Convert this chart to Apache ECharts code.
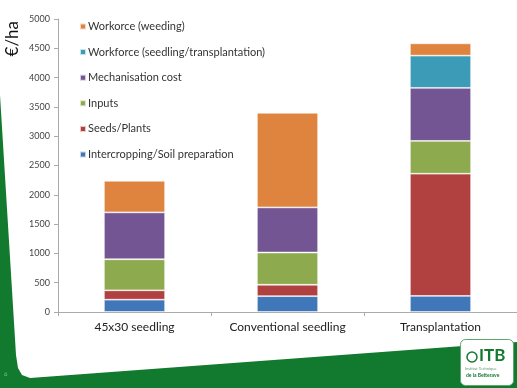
<!DOCTYPE html>
<html><head><meta charset="utf-8">
<script src="https://cdn.jsdelivr.net/npm/echarts@6/dist/echarts.min.js"></script>
<style>html,body{margin:0;padding:0;background:#fff;}#c{width:517px;height:388px;}</style>
</head><body><div id="c"></div>
<script>
var categories = ['45x30 seedling', 'Conventional seedling', 'Transplantation'];
var seriesNames = ['Intercropping/Soil preparation', 'Seeds/Plants', 'Inputs', 'Mechanisation cost', 'Workforce (seedling/transplantation)', 'Workorce (weeding)'];
var intercropping = [210, 270, 275];
var seedsPlants = [160, 195, 2085];
var inputs = [530, 550, 560];
var mechanisation = [800, 770, 905];
var workforceSeedling = [null, null, 550];
var workforceWeeding = [540, 1615, 210];
var colors = ['#4077B9', '#B04140', '#8DAB4E', '#745593', '#3C9BB6', '#DE843E'];
var values = [intercropping, seedsPlants, inputs, mechanisation, workforceSeedling, workforceWeeding];
var font = 'Lato, "Open Sans", sans-serif';
var green = '#127A2F';

var chart = echarts.init(document.getElementById('c'));
chart.setOption({
  animation: false,
  color: colors,
  textStyle: { fontFamily: font },
  grid: { left: 58, right: 0, top: 19, bottom: 76, containLabel: false },
  legend: {
    orient: 'vertical', left: 74, top: 16, itemGap: 14.6,
    itemWidth: 6, itemHeight: 6, icon: 'rect',
    data: seriesNames.slice().reverse(),
    textStyle: { fontSize: 11, color: '#333', fontFamily: font, padding: [0, 0, 0, -3] }
  },
  xAxis: {
    type: 'category', data: categories,
    axisLine: { lineStyle: { color: '#aaa' } },
    axisTick: { show: true, length: 4, lineStyle: { color: '#aaa' } },
    axisLabel: { fontSize: 12, color: '#222', margin: 9, fontFamily: font }
  },
  yAxis: {
    type: 'value', min: 0, max: 5000, interval: 500,
    axisLine: { show: true, lineStyle: { color: '#aaa' } },
    axisTick: { show: true, length: 4, lineStyle: { color: '#aaa' } },
    splitLine: { show: false },
    axisLabel: { fontSize: 9, color: '#444', margin: 8, fontFamily: font,
      formatter: function (v) { return String(v); } }
  },
  series: seriesNames.map(function (n, i) {
    return {
      name: n, type: 'bar', stack: 'cost', data: values[i],
      barCategoryGap: '60%',
      itemStyle: { color: colors[i], borderColor: 'rgba(255,255,255,0.7)', borderWidth: 0.8 }
    };
  }),
  graphic: [
    { type: 'polygon', z: -10, silent: true,
      shape: { points: [[0, 95], [16, 355], [18, 368], [22, 375], [30, 378], [517, 342], [517, 388], [0, 388]] },
      style: { fill: green } },
    { type: 'text', left: 4, top: 21, rotation: Math.PI / 2, silent: true,
      style: { text: '€/ha', font: '17px ' + font, fill: '#111' } },
    { type: 'text', left: 4, top: 371, silent: true,
      style: { text: '6', font: '6px ' + font, fill: '#7fc08f' } },
    { type: 'rect', left: 460, top: 339, silent: true,
      shape: { width: 53, height: 46, r: 5 },
      style: { fill: '#fff', stroke: '#5aa86a', lineWidth: 1 } },
    { type: 'text', left: 479, top: 347, silent: true,
      style: { text: 'ITB', font: 'bold 17px ' + font, fill: green } },
    { type: 'circle', silent: true, shape: { cx: 472, cy: 357, r: 5 },
      style: { fill: 'none', stroke: green, lineWidth: 1.5 } },
    { type: 'text', left: 465, top: 367, silent: true,
      style: { text: 'Institut Technique', font: '4px ' + font, fill: '#5a9a6a' } },
    { type: 'text', left: 466, top: 373, silent: true,
      style: { text: 'de la Betterave', font: 'bold 5px ' + font, fill: green } }
  ]
});
</script></body></html>
